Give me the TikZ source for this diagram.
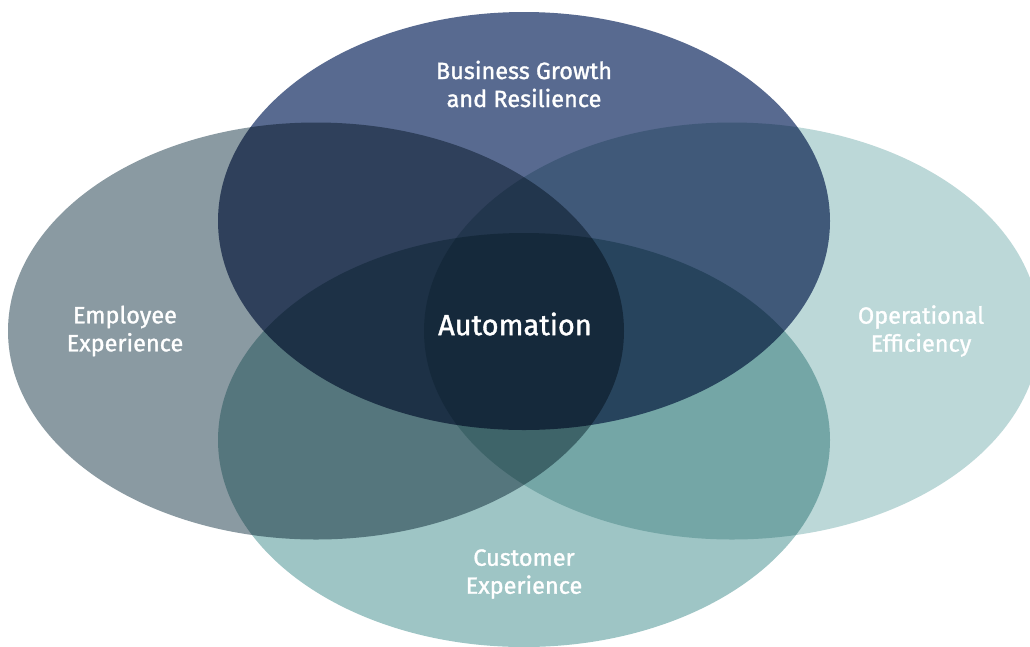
\documentclass[tikz,border=0pt]{standalone}
\usepackage{fontspec}
\setmainfont{Fira Sans}[FakeBold=1.3]
\definecolor{cTop}{HTML}{586A90}
\definecolor{cLeft}{HTML}{8A9AA2}
\definecolor{cRight}{HTML}{BCD8D8}
\definecolor{cBottom}{HTML}{9EC5C5}
\usetikzlibrary{shapes.geometric}
\tikzset{
  blob/.style={ellipse, draw=none, inner sep=0pt},
  lbl/.style={text=white, align=center, font=\fontsize{23.5}{28}\selectfont},
}
\begin{document}
\begin{tikzpicture}[x=1pt,y=-1pt]
\useasboundingbox[fill=white] (0,0) rectangle (1030,646);
\begin{scope}
\clip (0,0) rectangle (1030,646);
\begin{scope}[blend group=multiply]
  \node[blob, fill=cLeft,   minimum width=616pt, minimum height=417pt] (empl) at (316,331) {};
  \node[blob, fill=cRight,  minimum width=616pt, minimum height=417pt] (oper) at (732,331) {};
  \node[blob, fill=cTop,    minimum width=612pt, minimum height=418pt] (busi) at (524,221) {};
  \node[blob, fill=cBottom, minimum width=612pt, minimum height=414pt] (cust) at (524,440) {};
\end{scope}
\end{scope}
\node[lbl] (tBus) at (524,84) {Business Growth\\and Resilience};
\node[lbl] (tEmp) at (125,331) {Employee\\Experience};
\node[lbl] (tOpe) at (921,331) {Operational\\Efficiency};
\node[lbl] (tCus) at (524,574) {Customer\\Experience};
\node[text=white, font=\fontsize{29}{32}\selectfont] (tAut) at (515,324) {Automation};
\end{tikzpicture}
\end{document}
